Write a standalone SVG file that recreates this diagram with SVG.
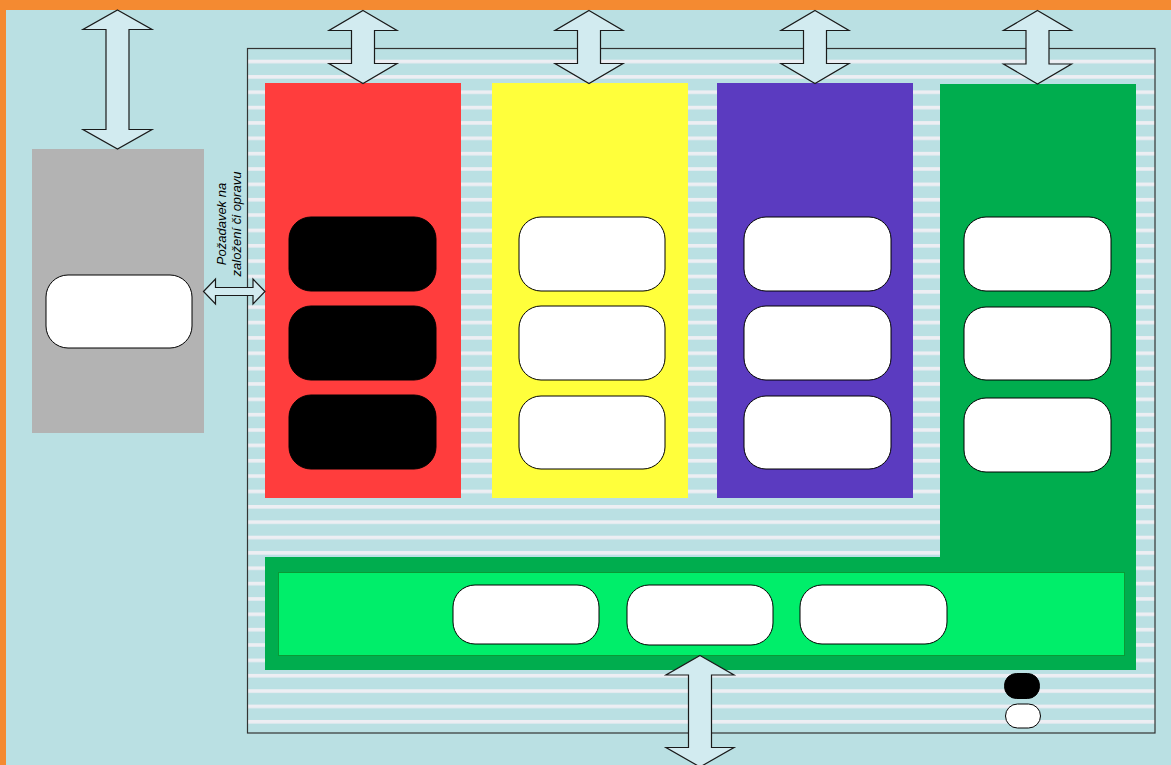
<svg xmlns="http://www.w3.org/2000/svg" width="1171" height="765" viewBox="0 0 1171 765">
<style>
.arrow{fill:#D2EBF0;stroke:#1a1a1a;stroke-width:1.2;stroke-linejoin:miter}
.pill{fill:#FFFFFF;stroke:#000;stroke-width:1}
.pillb{fill:#000000;stroke:#000;stroke-width:1}
.lbl{font-family:"Liberation Sans",Arial,sans-serif;font-size:13px;font-style:italic;fill:#000;text-anchor:middle}
</style>
<defs>
<pattern id="stripes" patternUnits="userSpaceOnUse" x="248" y="59.7" width="910" height="15.355">
<rect width="910" height="15.355" fill="#BAE0E3"/>
<rect width="910" height="3.6" fill="#EDEEF3"/>
</pattern>
</defs>
<rect width="1171" height="765" fill="#F48A31"/>
<rect x="6" y="10" width="1165" height="755" fill="#BAE0E3"/>
<g id="system">
<rect x="247.5" y="48.5" width="907.5" height="684.5" fill="url(#stripes)" stroke="#333" stroke-width="1.2"/>
</g>
<g id="external">
<rect x="32" y="149" width="172" height="284" fill="#B3B3B3"/>
<rect class="pill" x="46" y="275" width="146" height="73" rx="22"/>
</g>
<g id="col-red">
<rect x="265" y="83" width="196" height="415" fill="#FF3D3D"/>
<rect class="pillb" x="289" y="217" width="147" height="74" rx="22"/>
<rect class="pillb" x="289" y="306" width="147" height="74" rx="22"/>
<rect class="pillb" x="289" y="395" width="147" height="74" rx="22"/>
</g>
<g id="col-yellow">
<rect x="492" y="83" width="196" height="415" fill="#FFFF3B"/>
<rect class="pill" x="519" y="217" width="146" height="74" rx="22"/>
<rect class="pill" x="519" y="306" width="146" height="74" rx="22"/>
<rect class="pill" x="519" y="396" width="146" height="73" rx="22"/>
</g>
<g id="col-purple">
<rect x="717" y="83" width="196" height="415" fill="#5B3BC0"/>
<rect class="pill" x="744" y="217" width="147" height="74" rx="22"/>
<rect class="pill" x="744" y="306" width="147" height="74" rx="22"/>
<rect class="pill" x="744" y="396" width="147" height="73" rx="22"/>
</g>
<g id="col-green">
<path d="M940 84 H1136 V670 H265 V557 H940 Z" fill="#00AD4E"/>
<rect class="pill" x="964" y="217" width="147" height="74" rx="22"/>
<rect class="pill" x="964" y="307" width="147" height="73" rx="22"/>
<rect class="pill" x="964" y="398" width="147" height="74" rx="22"/>
</g>
<g id="bar-green">
<rect x="278.5" y="572.5" width="846" height="83" fill="#00EE6A" stroke="#0A9A35" stroke-width="1"/>
<rect class="pill" x="453" y="585" width="146" height="59" rx="22"/>
<rect class="pill" x="627" y="585" width="146" height="60" rx="22"/>
<rect class="pill" x="800" y="585" width="147" height="59" rx="22"/>
</g>
<g id="legend">
<rect class="pillb" x="1004.5" y="673.5" width="35" height="25" rx="12"/>
<rect class="pill" x="1005.5" y="704" width="35" height="24" rx="12"/>
</g>
<g id="connectors">
<path class="arrow" d="M117.5 10 L152 29.5 H129 V129.5 H152 L117.5 149 L83 129.5 H106 V29.5 H83 Z"/>
<path class="arrow" d="M363 10.5 L397 30.5 H374.5 V63.5 H397 L363 83.5 L329 63.5 H351.5 V30.5 H329 Z"/>
<path class="arrow" d="M589 10.5 L623 30.5 H600.5 V63.5 H623 L589 83.5 L555 63.5 H577.5 V30.5 H555 Z"/>
<path class="arrow" d="M815 10.5 L849 30.5 H826.5 V63.5 H849 L815 83.5 L781 63.5 H803.5 V30.5 H781 Z"/>
<path class="arrow" d="M1037.5 10.5 L1071.5 30.5 H1049 V64 H1071.5 L1037.5 84 L1003.5 64 H1026 V30.5 H1003.5 Z"/>
<path class="arrow" d="M700 655.5 L734 675 H711.5 V747.5 H734 L700 767 L666 747.5 H688.5 V675 H666 Z"/>
<path class="arrow" d="M203.5 291.5 L215.5 279 V287.5 H253 V279 L265 291.5 L253 304 V295.5 H215.5 V304 Z"/>
<text class="lbl" transform="translate(226,224) rotate(-90)">Požadavek na</text>
<text class="lbl" transform="translate(240.5,224) rotate(-90)">založení či opravu</text>
</g>
</svg>
